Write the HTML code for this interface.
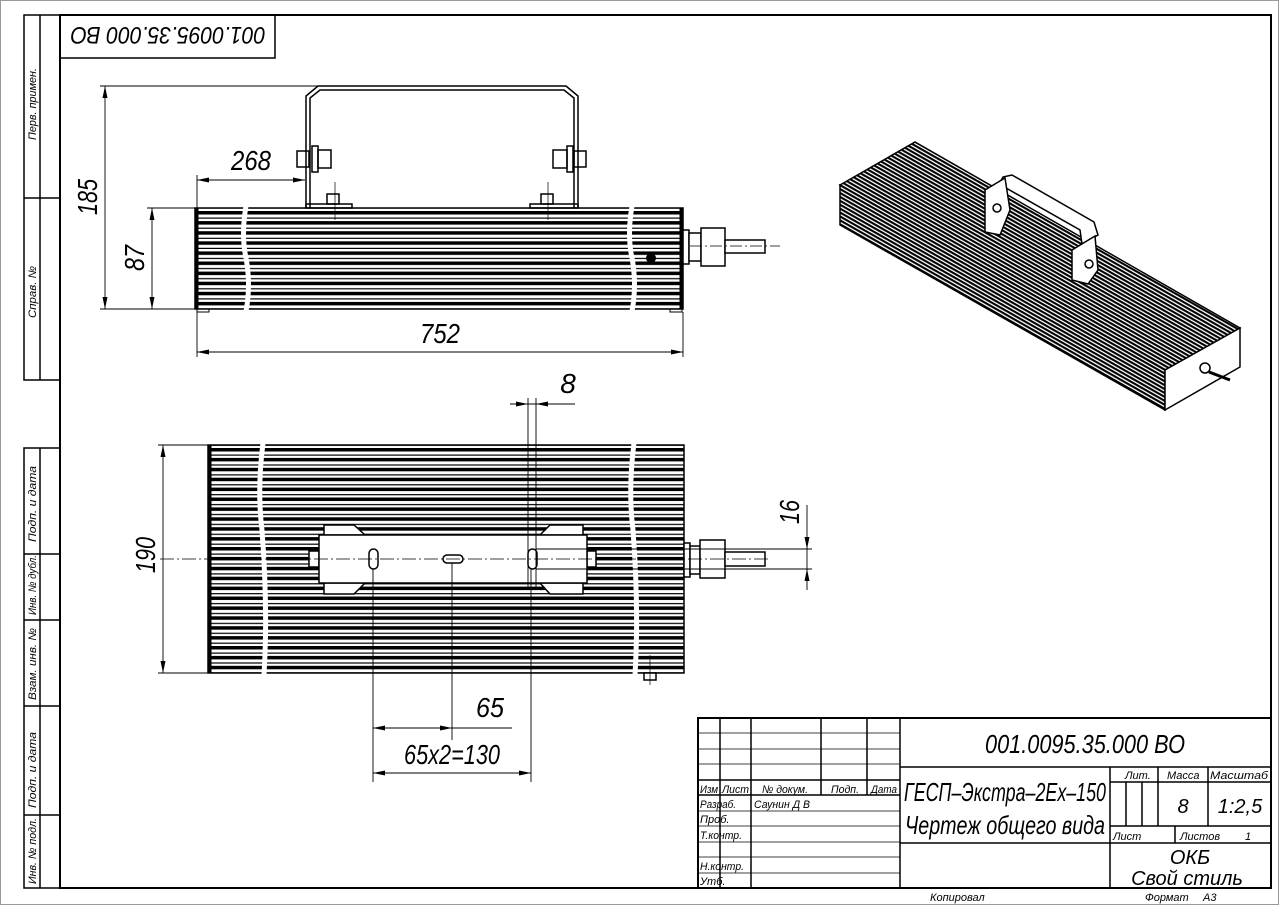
<!DOCTYPE html>
<html><head><meta charset="utf-8"><style>
html,body{margin:0;padding:0;background:#fff}
svg{display:block}
text{font-family:"Liberation Sans Narrow","Liberation Sans",sans-serif;font-style:italic;fill:#000}
</style></head><body>
<svg width="1279" height="905" viewBox="0 0 1279 905" xmlns="http://www.w3.org/2000/svg">
<defs>
<pattern id="finF" patternUnits="userSpaceOnUse" x="0" y="211" width="20" height="10.1">
<rect x="0" y="0" width="20" height="3.5" fill="#000"/><rect x="0" y="6.5" width="20" height="1.2" fill="#000"/>
</pattern>
<pattern id="finP" patternUnits="userSpaceOnUse" x="0" y="448" width="20" height="9.9">
<rect x="0" y="0" width="20" height="3.5" fill="#000"/><rect x="0" y="6.5" width="20" height="1.2" fill="#000"/>
</pattern>
<pattern id="fin3" patternUnits="userSpaceOnUse" width="20" height="3.4" patternTransform="rotate(29.6)">
<rect x="0" y="0" width="20" height="2.1" fill="#000"/>
</pattern>
</defs>
<rect x="0.5" y="0.5" width="1278" height="904" fill="none" stroke="#999" stroke-width="1"/>
<rect x="60" y="15" width="1211" height="873" fill="none" stroke="#000" stroke-width="2"/>
<g fill="none" stroke="#000" stroke-width="1.5">
<rect x="24" y="15" width="36" height="365"/><line x1="40" y1="15" x2="40" y2="380"/><line x1="24" y1="198" x2="60" y2="198"/>
<rect x="24" y="448" width="36" height="440"/><line x1="40" y1="448" x2="40" y2="888"/>
<line x1="24" y1="554" x2="60" y2="554"/><line x1="24" y1="620" x2="60" y2="620"/><line x1="24" y1="706" x2="60" y2="706"/><line x1="24" y1="815" x2="60" y2="815"/>
</g>
<g font-size="11">
<text transform="translate(36,140) rotate(-90)" textLength="72" lengthAdjust="spacingAndGlyphs">Перв. примен.</text>
<text transform="translate(36,318) rotate(-90)" textLength="52" lengthAdjust="spacingAndGlyphs">Справ. №</text>
<text transform="translate(36,542) rotate(-90)" textLength="76" lengthAdjust="spacingAndGlyphs">Подп. и дата</text>
<text transform="translate(36,615) rotate(-90)" textLength="60" lengthAdjust="spacingAndGlyphs">Инв. № дубл.</text>
<text transform="translate(36,700) rotate(-90)" textLength="72" lengthAdjust="spacingAndGlyphs">Взам. инв. №</text>
<text transform="translate(36,808) rotate(-90)" textLength="76" lengthAdjust="spacingAndGlyphs">Подп. и дата</text>
<text transform="translate(36,884) rotate(-90)" textLength="66" lengthAdjust="spacingAndGlyphs">Инв. № подл.</text>
</g>
<rect x="60" y="15" width="215" height="43" fill="none" stroke="#000" stroke-width="1.5"/>
<text transform="translate(168,27) rotate(180)" font-size="24" text-anchor="middle" textLength="195" lengthAdjust="spacingAndGlyphs">001.0095.35.000 ВО</text>

<!-- FRONT VIEW -->
<g fill="none" stroke="#000" stroke-width="1.5">
<path d="M306,208 V96 L318,86 H566 L578,96 V208"/>
<path d="M310,208 V98 L320,90 H564 L574,98 V208"/>
<rect x="306" y="204" width="46" height="4"/><rect x="530" y="204" width="48" height="4"/>
<rect x="297" y="151" width="12" height="16"/><rect x="312" y="146" width="6" height="26"/><rect x="318" y="150" width="13" height="18"/>
<rect x="574" y="151" width="12" height="16"/><rect x="567" y="146" width="6" height="26"/><rect x="553" y="150" width="14" height="18"/>
<rect x="327" y="194" width="12" height="10"/><rect x="541" y="194" width="12" height="10"/>
</g>
<rect x="195" y="208" width="488" height="101" fill="url(#finF)" stroke="#000" stroke-width="1.5"/>
<line x1="197" y1="208" x2="197" y2="309" stroke="#000" stroke-width="3"/>
<line x1="681" y1="208" x2="681" y2="309" stroke="#000" stroke-width="3"/>
<path d="M246,206 Q241,235 246,258 Q251,285 246,311" stroke="#fff" stroke-width="5" fill="none"/>
<path d="M632,206 Q627,235 632,258 Q637,285 632,311" stroke="#fff" stroke-width="5" fill="none"/>
<rect x="197" y="309" width="12" height="3" fill="none" stroke="#000"/><rect x="670" y="309" width="12" height="3" fill="none" stroke="#000"/>
<circle cx="651" cy="258" r="5" fill="#000"/>
<g fill="#fff" stroke="#000" stroke-width="1.5">
<rect x="683" y="230" width="6" height="34"/><rect x="689" y="233" width="12" height="28"/><rect x="701" y="228" width="24" height="38"/>
<rect x="725" y="240" width="40" height="13"/>
</g>
<line x1="690" y1="246" x2="780" y2="246" stroke="#000" stroke-width="0.7" stroke-dasharray="12,3,2,3"/>
<line x1="335" y1="182" x2="335" y2="220" stroke="#000" stroke-width="0.7"/><line x1="548" y1="182" x2="548" y2="220" stroke="#000" stroke-width="0.7"/>

<g stroke="#000" stroke-width="0.9" fill="none">
<line x1="100" y1="86" x2="318" y2="86"/><line x1="100" y1="309" x2="195" y2="309"/>
<line x1="105" y1="86" x2="105" y2="309"/>
<line x1="147" y1="208" x2="195" y2="208"/><line x1="152" y1="208" x2="152" y2="309"/>
<line x1="197" y1="175" x2="197" y2="208"/><line x1="197" y1="180" x2="305" y2="180"/>
<line x1="197" y1="312" x2="197" y2="357"/><line x1="683" y1="312" x2="683" y2="357"/><line x1="197" y1="352" x2="683" y2="352"/>
</g>
<g fill="#000">
<path d="M105,86 l-2.5,12 h5z"/><path d="M105,309 l-2.5,-12 h5z"/>
<path d="M152,208 l-2.5,12 h5z"/><path d="M152,309 l-2.5,-12 h5z"/>
<path d="M197,180 l12,-2.5 v5z"/><path d="M305,180 l-12,-2.5 v5z"/>
<path d="M197,352 l12,-2.5 v5z"/><path d="M683,352 l-12,-2.5 v5z"/>
</g>
<g font-size="28">
<text transform="translate(97,197) rotate(-90)" text-anchor="middle" textLength="36" lengthAdjust="spacingAndGlyphs">185</text>
<text transform="translate(144,258) rotate(-90)" text-anchor="middle" textLength="26" lengthAdjust="spacingAndGlyphs">87</text>
<text x="251" y="170" text-anchor="middle" textLength="40" lengthAdjust="spacingAndGlyphs">268</text>
<text x="440" y="343" text-anchor="middle" textLength="40" lengthAdjust="spacingAndGlyphs">752</text>
</g>

<!-- PLAN VIEW -->
<rect x="208" y="445" width="476" height="228" fill="url(#finP)" stroke="#000" stroke-width="1.5"/>
<line x1="210" y1="445" x2="210" y2="673" stroke="#000" stroke-width="3"/>
<path d="M263,443 Q257,490 262,530 Q268,610 264,675" stroke="#fff" stroke-width="5" fill="none"/>
<path d="M634,443 Q628,490 633,530 Q639,610 635,675" stroke="#fff" stroke-width="5" fill="none"/>
<g fill="#fff" stroke="#000" stroke-width="1.5">
<path d="M324,535 V525 H354 L365,535 Z"/><path d="M583,535 V525 H550 L540,535 Z"/>
<path d="M324,583 V594 H354 L365,583 Z"/><path d="M583,583 V594 H550 L540,583 Z"/>
<rect x="309" y="551" width="10" height="16"/><rect x="587" y="551" width="9" height="16"/>
<rect x="319" y="535" width="268" height="48"/>
<rect x="369" y="549" width="9" height="20" rx="4.5"/><rect x="443" y="555" width="20" height="8" rx="4"/><rect x="528" y="549" width="9" height="20" rx="4.5"/>
<rect x="684" y="543" width="6" height="34"/><rect x="690" y="546" width="10" height="28"/><rect x="700" y="540" width="25" height="38"/>
<rect x="725" y="552" width="40" height="14"/>
<rect x="644" y="673" width="12" height="7"/>
</g>
<line x1="160" y1="559" x2="770" y2="559" stroke="#000" stroke-width="0.7" stroke-dasharray="14,3,2,3"/>
<line x1="650" y1="655" x2="650" y2="685" stroke="#000" stroke-width="0.7"/>
<g stroke="#000" stroke-width="0.9" fill="none">
<line x1="158" y1="445" x2="208" y2="445"/><line x1="158" y1="673" x2="208" y2="673"/><line x1="163" y1="445" x2="163" y2="673"/>
<line x1="528" y1="398" x2="528" y2="590"/><line x1="536" y1="398" x2="536" y2="590"/>
<line x1="510" y1="404" x2="575" y2="404"/>
<line x1="536" y1="549" x2="812" y2="549"/><line x1="536" y1="569" x2="812" y2="569"/>
<line x1="807" y1="505" x2="807" y2="590"/>
<line x1="373" y1="569" x2="373" y2="782"/><line x1="452" y1="563" x2="452" y2="740"/><line x1="531" y1="569" x2="531" y2="782"/>
<line x1="373" y1="728" x2="512" y2="728"/>
<line x1="373" y1="773" x2="531" y2="773"/>
</g>
<g fill="#000">
<path d="M163,445 l-2.5,12 h5z"/><path d="M163,673 l-2.5,-12 h5z"/>
<path d="M528,404 l-12,-2.5 v5z"/><path d="M536,404 l12,-2.5 v5z"/>
<path d="M807,549 l-2.5,-12 h5z"/><path d="M807,569 l-2.5,12 h5z"/>
<path d="M373,728 l12,-2.5 v5z"/><path d="M452,728 l-12,-2.5 v5z"/>
<path d="M373,773 l12,-2.5 v5z"/><path d="M531,773 l-12,-2.5 v5z"/>
</g>
<g font-size="28">
<text transform="translate(155,555) rotate(-90)" text-anchor="middle" textLength="36" lengthAdjust="spacingAndGlyphs">190</text>
<text x="568" y="393" text-anchor="middle">8</text>
<text transform="translate(799,512) rotate(-90)" text-anchor="middle" textLength="24" lengthAdjust="spacingAndGlyphs">16</text>
<text x="490" y="717" text-anchor="middle" textLength="28" lengthAdjust="spacingAndGlyphs">65</text>
<text x="452" y="764" text-anchor="middle" textLength="96" lengthAdjust="spacingAndGlyphs">65x2=130</text>
</g>

<!-- 3D VIEW -->
<g stroke="#000" stroke-width="1.5">
<polygon points="840,185 915,142 1240,328 1165,370" fill="url(#fin3)"/>
<polygon points="840,185 1165,370 1165,410 840,225" fill="url(#fin3)"/>
<polygon points="1165,370 1240,328 1240,367 1165,410" fill="#fff"/>
<polygon points="1003,177 1012,175 1094,222 1098,235 1082,244 1080,230 999,184" fill="#fff"/>
<polygon points="985,190 1005,178 1010,210 1000,235 985,232" fill="#fff"/>
<polygon points="1072,250 1095,236 1098,270 1088,284 1072,280" fill="#fff"/>
<circle cx="997" cy="208" r="4" fill="#fff"/><circle cx="1089" cy="264" r="4" fill="#fff"/>
<circle cx="1205" cy="368" r="5" fill="#fff"/><line x1="1209" y1="372" x2="1230" y2="380" stroke-width="3"/>
</g>

<!-- TITLE BLOCK -->
<g fill="none" stroke="#000">
<rect x="698" y="718" width="573" height="170" stroke-width="2"/>
<g stroke-width="1.5">
<line x1="720" y1="718" x2="720" y2="888"/><line x1="751" y1="718" x2="751" y2="888"/>
<line x1="821" y1="718" x2="821" y2="795"/><line x1="867" y1="718" x2="867" y2="795"/>
<line x1="900" y1="718" x2="900" y2="888"/>
<line x1="698" y1="780" x2="900" y2="780"/><line x1="698" y1="795" x2="900" y2="795"/>
<line x1="900" y1="767" x2="1271" y2="767"/><line x1="900" y1="843" x2="1271" y2="843"/>
<line x1="1110" y1="767" x2="1110" y2="888"/>
<line x1="1158" y1="767" x2="1158" y2="826"/><line x1="1208" y1="767" x2="1208" y2="826"/>
<line x1="1110" y1="782" x2="1271" y2="782"/><line x1="1110" y1="826" x2="1271" y2="826"/>
<line x1="1126" y1="782" x2="1126" y2="826"/><line x1="1142" y1="782" x2="1142" y2="826"/>
<line x1="1175" y1="826" x2="1175" y2="843"/>
</g>
<g stroke-width="0.8">
<line x1="698" y1="733" x2="900" y2="733"/><line x1="698" y1="749" x2="900" y2="749"/><line x1="698" y1="764" x2="900" y2="764"/>
<line x1="698" y1="811" x2="900" y2="811"/><line x1="698" y1="826" x2="900" y2="826"/><line x1="698" y1="842" x2="900" y2="842"/>
<line x1="698" y1="857" x2="900" y2="857"/><line x1="698" y1="873" x2="900" y2="873"/>
</g>
</g>
<g font-size="11">
<text x="700" y="793" textLength="18" lengthAdjust="spacingAndGlyphs">Изм</text><text x="722" y="793" textLength="27" lengthAdjust="spacingAndGlyphs">Лист</text>
<text x="762" y="793" textLength="46" lengthAdjust="spacingAndGlyphs">№ докум.</text><text x="831" y="793" textLength="28" lengthAdjust="spacingAndGlyphs">Подп.</text><text x="871" y="793" textLength="26" lengthAdjust="spacingAndGlyphs">Дата</text>
<text x="700" y="808" textLength="36" lengthAdjust="spacingAndGlyphs">Разраб.</text><text x="754" y="808" textLength="56" lengthAdjust="spacingAndGlyphs">Саунин Д В</text>
<text x="700" y="823">Проб.</text><text x="700" y="839" textLength="42" lengthAdjust="spacingAndGlyphs">Т.контр.</text>
<text x="700" y="870" textLength="44" lengthAdjust="spacingAndGlyphs">Н.контр.</text><text x="700" y="885">Утб.</text>
<text x="1125" y="779">Лит.</text><text x="1167" y="779">Масса</text><text x="1210" y="779" textLength="58" lengthAdjust="spacingAndGlyphs">Масштаб</text>
<text x="1113" y="840">Лист</text><text x="1180" y="840">Листов</text><text x="1245" y="840">1</text>
<text x="930" y="901">Копировал</text><text x="1145" y="901">Формат</text><text x="1203" y="901">А3</text>
</g>
<g font-size="26">
<text x="1085" y="753" text-anchor="middle" textLength="200" lengthAdjust="spacingAndGlyphs">001.0095.35.000 ВО</text>
<text x="1005" y="801" text-anchor="middle" textLength="202" lengthAdjust="spacingAndGlyphs">ГЕСП–Экстра–2Ех–150</text>
<text x="1005" y="834" text-anchor="middle" textLength="200" lengthAdjust="spacingAndGlyphs">Чертеж общего вида</text>
</g>
<g font-size="20">
<text x="1183" y="813" text-anchor="middle">8</text>
<text x="1240" y="813" text-anchor="middle">1:2,5</text>
<text x="1190" y="864" text-anchor="middle">ОКБ</text>
<text x="1187" y="885" text-anchor="middle">Свой стиль</text>
</g>
</svg>
</body></html>
